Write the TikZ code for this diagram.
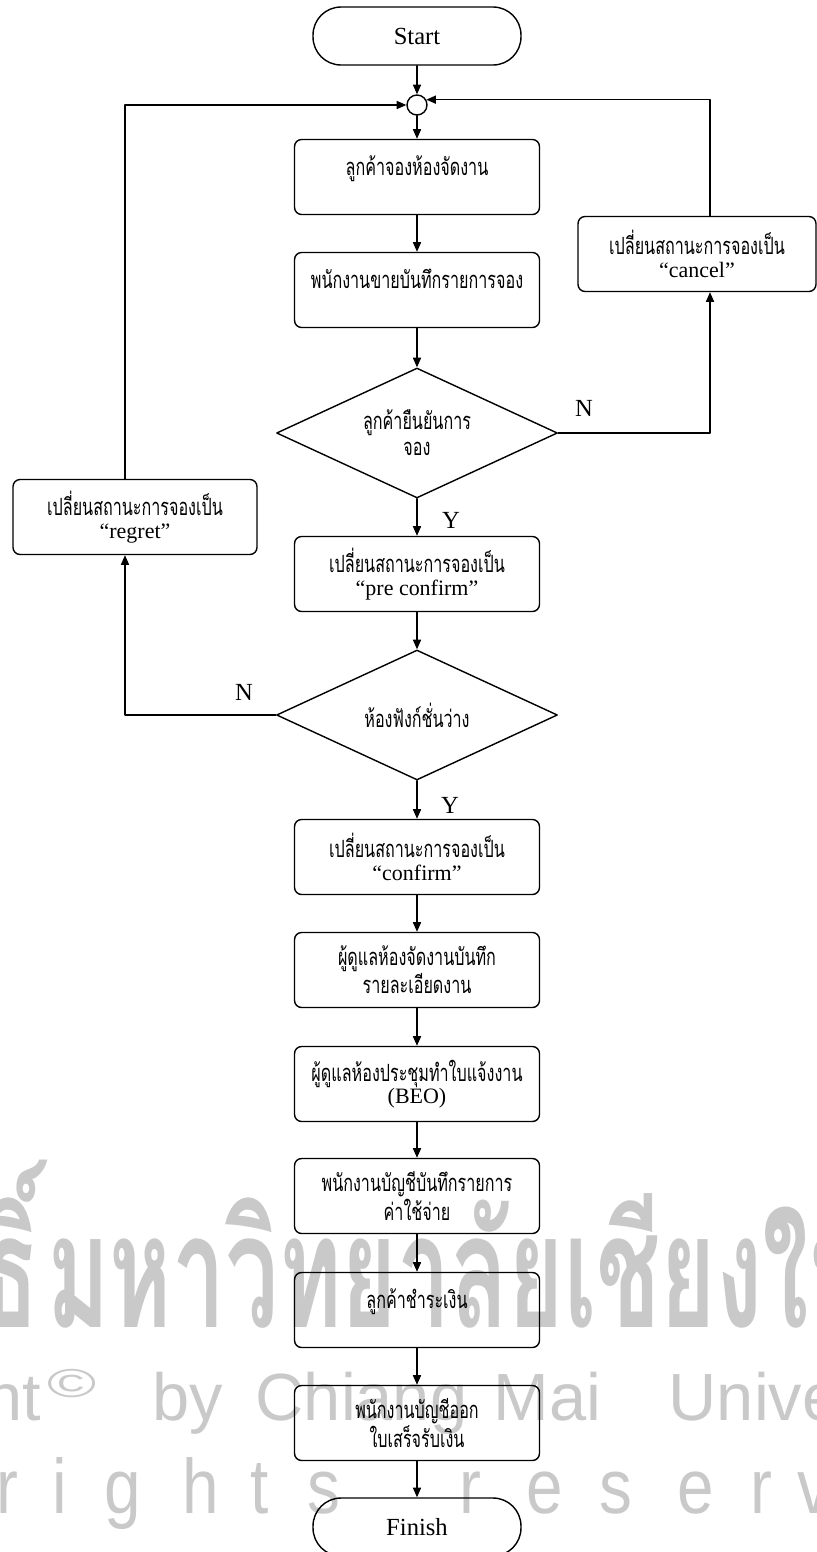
\documentclass[tikz,border=0pt]{standalone}
\usepackage{fontspec}
\usepackage{graphicx}
\setmainfont{Liberation Serif}
\setsansfont{Liberation Sans}
\newfontfamily\thaifont[Script=Thai,FakeStretch=0.68]{Loma}
\newfontfamily\wmthaifont[Script=Thai]{Loma}
\usetikzlibrary{arrows.meta,shapes.geometric}
\newcommand{\lat}[1]{{\rmfamily\fontsize{12.5}{12.8}\selectfont #1}}
\tikzset{
  box/.style={draw,rounded corners=4pt,minimum width=4.9cm,minimum height=1.5cm,align=center,inner sep=1pt,font=\thaifont\fontsize{13.5}{12.8}\selectfont},
  term/.style={draw,rounded corners=.56cm,minimum width=4.16cm,minimum height=1.16cm,font=\fontsize{14}{16}\selectfont},
  dec/.style={draw,diamond,aspect=2.16,minimum width=5.62cm,minimum height=2.6cm,inner sep=0pt,align=center,font=\thaifont\fontsize{13.5}{14.8}\selectfont},
  arr/.style={-{Triangle[length=5.5pt,width=4.6pt]}},
  lbl/.style={font=\fontsize{14}{16}\selectfont},
  wm/.style={text=black!21,inner sep=0pt}
}
\begin{document}
\begin{tikzpicture}[x=.02cm,y=-.02cm,line cap=round,line join=round,line width=.8pt]
\useasboundingbox (0,0) rectangle (817,1552);
\clip (0,0) rectangle (817,1552);
% watermark
\node[wm,anchor=base east,xscale=.6,font=\wmthaifont\bfseries\fontsize{90}{90}\selectfont] (wth1) at (40,1327) {ลิขสิทธิ์};
\node[wm,anchor=base west,xscale=.6,font=\wmthaifont\bfseries\fontsize{90}{90}\selectfont] (wth2) at (47,1327) {มหาวิทยาลัยเชียงใหม่};
\node[wm,anchor=base east,font=\sffamily\fontsize{38}{38}\selectfont] (wcp) at (42,1420) {Copyright};
\node[wm,anchor=base west,xscale=1.65,font=\sffamily\fontsize{23}{23}\selectfont] (wco) at (46,1397) {©};
\foreach \w/\x [count=\i] in {by/152,Chiang/255,Mai/493,University/668}
  \node[wm,anchor=base west,font=\sffamily\fontsize{38}{38}\selectfont] (wcw\i) at (\x,1420) {\w};
\foreach \c/\x [count=\i] in {r/-4,i/52,g/104,h/182,t/250,s/307,r/459,e/526,s/599,e/677,r/750,v/797}
  \node[wm,anchor=base west,xscale=.85,font=\sffamily\fontsize{44}{44}\selectfont] (wrs\i) at (\x,1513) {\c};
% flow
\node[term] (start) at (417,36) {Start};
\node[draw,circle,minimum size=.4cm,inner sep=0pt] (circ) at (417,105) {};
\node[box] (b1) at (417,177) {ลูกค้าจองห้องจัดงาน\\~};
\node[box] (b2) at (417,290) {พนักงานขายบันทึกรายการจอง\\~};
\node[dec] (d1) at (417,433) {ลูกค้ายืนยันการ\\จอง};
\node[box] (b3) at (417,574) {เปลี่ยนสถานะการจองเป็น\\\lat{“pre confirm”}};
\node[dec] (d2) at (417,715) {ห้องฟังก์ชั่นว่าง};
\node[box] (b4) at (417,857) {เปลี่ยนสถานะการจองเป็น\\\lat{“confirm”}};
\node[box] (b5) at (417,970) {ผู้ดูแลห้องจัดงานบันทึก\\รายละเอียดงาน};
\node[box] (b6) at (417,1084) {ผู้ดูแลห้องประชุมทำใบแจ้งงาน\\\lat{(BEO)}};
\node[box] (b7) at (417,1196) {พนักงานบัญชีบันทึกรายการ\\ค่าใช้จ่าย};
\node[box] (b8) at (417,1310) {ลูกค้าชำระเงิน\\~};
\node[box] (b9) at (417,1423) {พนักงานบัญชีออก\\ใบเสร็จรับเงิน};
\node[term] (finish) at (417,1527) {Finish};
\node[box,minimum width=4.76cm] (cancel) at (697,254) {เปลี่ยนสถานะการจองเป็น\\\lat{“cancel”}};
\node[box,minimum width=4.88cm] (regret) at (135,517) {เปลี่ยนสถานะการจองเป็น\\\lat{“regret”}};
\coordinate (rx) at (710,0);
\coordinate (lx) at (125,0);
\foreach \a/\b in {start/circ,circ/b1,b1/b2,b2/d1,d1/b3,b3/d2,d2/b4,b4/b5,b5/b6,b6/b7,b7/b8,b8/b9,b9/finish}
  \draw[arr] (\a) -- (\b);
\draw[arr] (d1.east) -| (cancel.south -| rx);
\draw[arr] (cancel.north -| rx) |- (circ.30);
\draw[arr] (d2.west) -| (regret.south -| lx);
\draw[arr] (regret.north -| lx) |- (circ.west);
\node[lbl] (n1) at (584,408) {N};
\node[lbl] (y1) at (451,520) {Y};
\node[lbl] (n2) at (244,692) {N};
\node[lbl] (y2) at (450,805) {Y};
\end{tikzpicture}
\end{document}
